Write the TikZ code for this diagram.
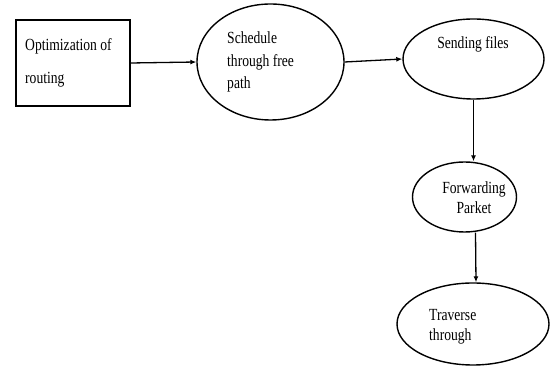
\documentclass[tikz,border=0pt]{standalone}
\usepackage{fontspec}
\setmainfont{Liberation Serif}[FakeStretch=0.8]
\usetikzlibrary{shapes.geometric,arrows.meta}
\tikzset{
  box/.style={draw, line width=1.7pt, inner sep=0pt, minimum width=114pt, minimum height=86pt},
  oval/.style={draw, ellipse, line width=1.4pt, inner sep=0pt},
  lbl/.style={inner sep=0pt, font=\fontsize{17}{20}\selectfont},
  arr/.style={line width=1.3pt, -{Latex[length=6pt,width=5pt]}}
}
\begin{document}
\begin{tikzpicture}[x=1pt,y=1pt]
\useasboundingbox (0,0) rectangle (552,366);
% shapes
\node[box] (rect) at (73,303) {};
\node[oval, minimum width=147pt, minimum height=116pt] (e2) at (270.5,304) {};
\node[oval, minimum width=141pt, minimum height=80pt] (e3) at (473.5,307) {};
\node[oval, minimum width=104pt, minimum height=70pt] (e4) at (464.5,169) {};
\node[oval, minimum width=152pt, minimum height=82pt] (e5) at (473,42) {};
% texts
\node[lbl, anchor=base west] (t1a) at (25,315) {Optimization of};
\node[lbl, anchor=base west] (t1b) at (25,282) {routing};
\node[lbl, anchor=base west] (t2a) at (227,322) {Schedule};
\node[lbl, anchor=base west] (t2b) at (227,299) {through free};
\node[lbl, anchor=base west] (t2c) at (227,277) {path};
\node[lbl, anchor=base] (t3) at (473,317) {Sending files};
\node[lbl, anchor=base] (t4a) at (474,172) {Forwarding};
\node[lbl, anchor=base] (t4b) at (474,152) {Parket};
\node[lbl, anchor=base west] (t5a) at (429,45) {Traverse};
\node[lbl, anchor=base west] (t5b) at (429,25) {through};
% connectors
\draw[arr] (rect.east) -- (e2.west);
\draw[arr] (e2.east) -- (e3.west);
\draw[arr] (e3.south) -- (e3.south |- e4.north);
\draw[arr] ([xshift=11pt]e4.south) -- ([xshift=3pt]e5.north);
\end{tikzpicture}
\end{document}
